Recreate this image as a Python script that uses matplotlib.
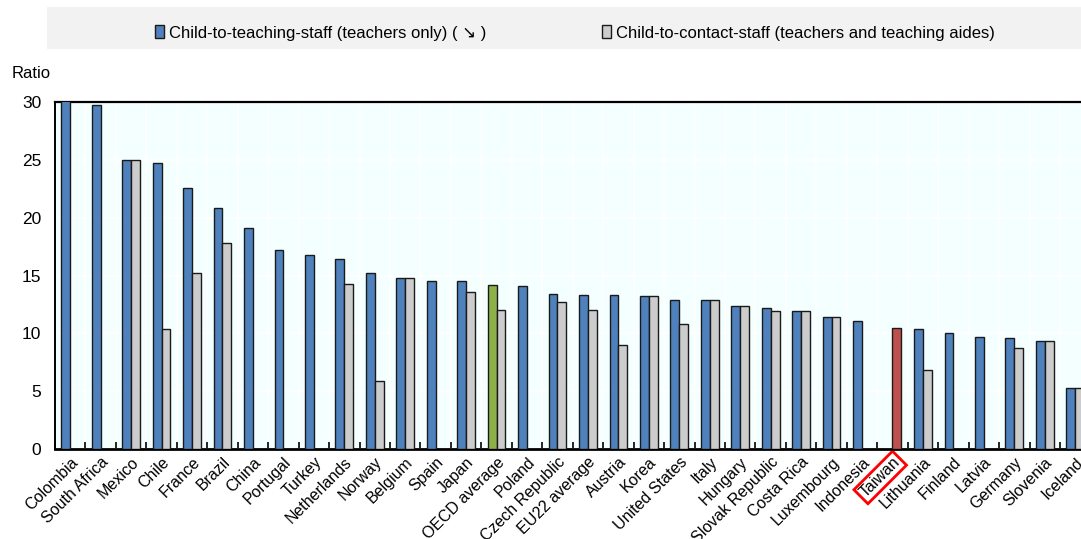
import matplotlib
matplotlib.use("Agg")
import matplotlib.pyplot as plt
import numpy as np
from matplotlib.patches import Patch, Rectangle

countries = [
    "Colombia", "South Africa", "Mexico", "Chile", "France", "Brazil", "China",
    "Portugal", "Turkey", "Netherlands", "Norway", "Belgium", "Spain", "Japan",
    "OECD average", "Poland", "Czech Republic", "EU22 average", "Austria", "Korea",
    "United States", "Italy", "Hungary", "Slovak Republic", "Costa Rica",
    "Luxembourg", "Indonesia", "Taiwan", "Lithuania", "Finland", "Latvia",
    "Germany", "Slovenia", "Iceland",
]
teaching_staff = [
    30.4, 29.7, 25.0, 24.75, 22.6, 20.85, 19.1, 17.2, 16.75, 16.45, 15.25,
    14.8, 14.55, 14.55, 14.2, 14.05, 13.4, 13.35, 13.3, 13.25, 12.9, 12.85,
    12.4, 12.2, 11.95, 11.45, 11.1, np.nan, 10.4, 10.0, 9.7, 9.6, 9.3, 5.25,
]
contact_staff = [
    np.nan, np.nan, 25.0, 10.35, 15.25, 17.85, np.nan, np.nan, np.nan, 14.25,
    5.85, 14.8, np.nan, 13.55, 12.05, np.nan, 12.75, 12.05, 8.95, 13.25, 10.85,
    12.85, 12.4, 11.95, 11.95, 11.45, np.nan, 10.5, 6.85, np.nan, np.nan, 8.75,
    9.3, 5.25,
]

BLUE = "#4F81BD"
GREY = "#CCCCCC"
GREEN = "#8DB04B"
RED = "#C0504D"

plt.rcParams["font.family"] = ["Liberation Sans", "DejaVu Sans"]

fig = plt.figure(figsize=(10.81, 5.39), dpi=100)
ax = fig.add_axes([55 / 1081, 1 - 449 / 539, 1 - 55 / 1081, (449 - 102) / 539])

x = np.arange(len(countries))
w = 0.29
blue_colors = [GREEN if c == "OECD average" else BLUE for c in countries]
grey_colors = [RED if c == "Taiwan" else GREY for c in countries]
ax.bar(x - w / 2, teaching_staff, w, color=blue_colors, edgecolor="#1a1a1a",
       linewidth=1.0, zorder=3)
ax.bar(x + w / 2, contact_staff, w, color=grey_colors, edgecolor="#1a1a1a",
       linewidth=1.0, zorder=3)

ax.set_facecolor("#F4FFFF")
ax.set_yticks(range(0, 31, 5))
ax.set_xticks(x)
ax.set_xticklabels(countries, rotation=45, ha="right", rotation_mode="anchor",
                   fontsize=11.5)
ax.set_xticks(np.arange(-0.5, 33.6, 1), minor=True)
# limits after the ticks, otherwise set_xticks widens the view
ax.set_ylim(0, 30)
ax.set_xlim(-0.5, 33.19)
ax.tick_params(axis="x", which="major", length=0, pad=4)
ax.tick_params(axis="x", which="minor", direction="in", length=5, width=1.2,
               color="#000000")
ax.tick_params(axis="y", length=0, labelsize=12.5, pad=10)
ax.grid(True, which="minor", axis="x", color="white", linewidth=1.2, zorder=0)
ax.grid(True, which="major", axis="y", color="white", linewidth=1.2, zorder=0)

for side in ("top", "bottom", "left"):
    ax.spines[side].set_color("black")
ax.spines["top"].set_linewidth(1.6)
ax.spines["bottom"].set_linewidth(2.0)
ax.spines["left"].set_linewidth(1.4)
ax.spines["right"].set_visible(False)

for lab in ax.get_xticklabels():
    if lab.get_text() == "Taiwan":
        lab.set_bbox(dict(boxstyle="square,pad=0.15", fc="none", ec="red", lw=2))

fig.text(12 / 1081, 1 - 74 / 539, "Ratio", fontsize=12, va="center", ha="left")

# legend strip
fig.patches.append(Rectangle((47 / 1081, 1 - 49 / 539), 1 - 47 / 1081, 42 / 539,
                             transform=fig.transFigure, facecolor="#F2F2F2",
                             edgecolor="none", zorder=0))
handles = [
    Patch(facecolor=BLUE, edgecolor="#1a1a1a",
          label="Child-to-teaching-staff (teachers only) ( \u2198 )"),
    Patch(facecolor=GREY, edgecolor="#1a1a1a",
          label="Child-to-contact-staff (teachers and teaching aides)"),
]
fig.legend(handles=handles, loc="center", bbox_to_anchor=(575 / 1081, 1 - 33 / 539),
           ncol=2, frameon=False, fontsize=12, handlelength=0.55, handleheight=0.8,
           handletextpad=0.3, columnspacing=6.9)

fig.savefig("out.png", dpi=100)
